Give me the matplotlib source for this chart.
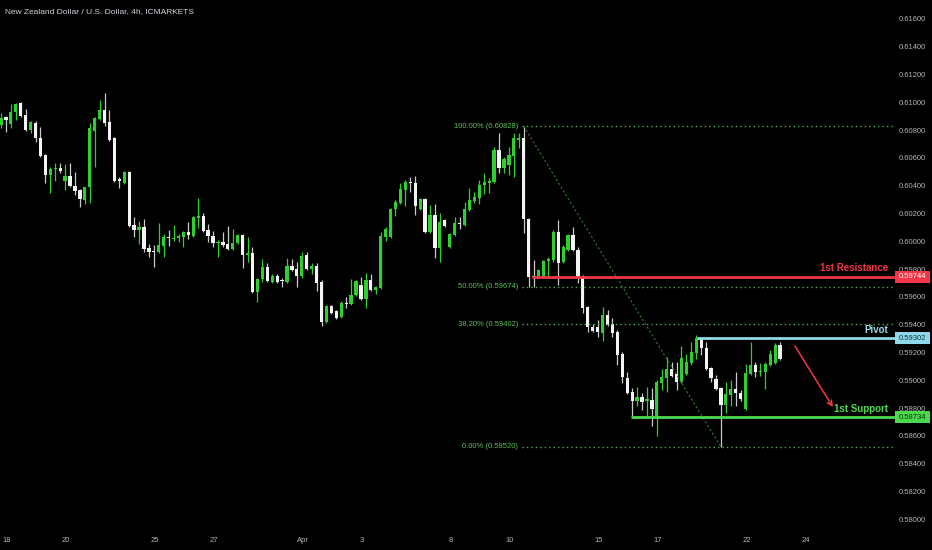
import matplotlib
matplotlib.use('Agg')
import matplotlib.pyplot as plt
from matplotlib.patches import Rectangle
from matplotlib import transforms
from matplotlib import font_manager

# ---------------- data (NZD/USD 4h candles) ----------------
opens = [0.60836, 0.60893, 0.60843, 0.60929, 0.60994, 0.60908, 0.60800, 0.60850, 0.60742, 0.60620,
         0.60476, 0.60519, 0.60526, 0.60433, 0.60469, 0.60397, 0.60368, 0.60296, 0.60390, 0.60793,
         0.60879, 0.60944, 0.60857, 0.60742, 0.60447, 0.60419, 0.60498, 0.60117, 0.60081, 0.60102,
         0.59951, 0.59930, 0.59922, 0.59966, 0.60030, 0.60016, 0.60023, 0.60030, 0.60066, 0.60038,
         0.60167, 0.60181, 0.60081, 0.60038, 0.59987, 0.59994, 0.59980, 0.59944, 0.59987, 0.60045,
         0.59901, 0.59915, 0.59635, 0.59728, 0.59815, 0.59707, 0.59750, 0.59721, 0.59707, 0.59822,
         0.59800, 0.59750, 0.59901, 0.59800, 0.59822, 0.59707, 0.59419, 0.59534, 0.59498, 0.59455,
         0.59555, 0.59548, 0.59613, 0.59685, 0.59584, 0.59721, 0.59649, 0.59664, 0.60030, 0.60030,
         0.60232, 0.60275, 0.60368, 0.60426, 0.60419, 0.60232, 0.60303, 0.60066, 0.60188, 0.59951,
         0.60153, 0.59958, 0.60045, 0.60131, 0.60117, 0.60224, 0.60289, 0.60311, 0.60404, 0.60419,
         0.60426, 0.60656, 0.60526, 0.60548, 0.60613, 0.60728, 0.60742, 0.60160, 0.59750, 0.59743,
         0.59743, 0.59858, 0.59865, 0.60066, 0.59851, 0.59937, 0.60045, 0.59937, 0.59743, 0.59527,
         0.59383, 0.59383, 0.59340, 0.59469, 0.59404, 0.59347, 0.59188, 0.59016, 0.58915, 0.58850,
         0.58879, 0.58850, 0.58858, 0.58735, 0.58980, 0.59016, 0.59081, 0.59045, 0.58987, 0.59045,
         0.59124, 0.59196, 0.59304, 0.59232, 0.59088, 0.59009, 0.58944, 0.58822, 0.58894, 0.58937,
         0.58908, 0.58793, 0.59045, 0.59109, 0.59059, 0.59059, 0.59109, 0.59124, 0.59253]
highs = [0.60922, 0.60900, 0.60987, 0.60994, 0.61001, 0.60951, 0.60864, 0.60864, 0.60821, 0.60627,
         0.60534, 0.60562, 0.60562, 0.60555, 0.60562, 0.60498, 0.60375, 0.60393, 0.60850, 0.60893,
         0.61016, 0.61066, 0.60944, 0.60750, 0.60462, 0.60505, 0.60505, 0.60174, 0.60146, 0.60160,
         0.59980, 0.59973, 0.60131, 0.60052, 0.60081, 0.60117, 0.60052, 0.60073, 0.60138, 0.60181,
         0.60311, 0.60203, 0.60124, 0.60073, 0.60009, 0.60066, 0.60109, 0.60088, 0.60052, 0.60052,
         0.60030, 0.59958, 0.59736, 0.59872, 0.59843, 0.59764, 0.59764, 0.59736, 0.59879, 0.59872,
         0.59851, 0.59922, 0.59922, 0.59843, 0.59843, 0.59721, 0.59541, 0.59541, 0.59505, 0.59570,
         0.59599, 0.59728, 0.59721, 0.59743, 0.59771, 0.59764, 0.59678, 0.60066, 0.60102, 0.60239,
         0.60296, 0.60419, 0.60440, 0.60462, 0.60469, 0.60311, 0.60311, 0.60260, 0.60267, 0.60203,
         0.60160, 0.60059, 0.60174, 0.60174, 0.60282, 0.60383, 0.60354, 0.60440, 0.60490, 0.60455,
         0.60678, 0.60778, 0.60606, 0.60678, 0.60778, 0.60778, 0.60828, 0.60167, 0.59865, 0.59800,
         0.59865, 0.59887, 0.60081, 0.60153, 0.59973, 0.60052, 0.60102, 0.59958, 0.59757, 0.59534,
         0.59404, 0.59433, 0.59527, 0.59505, 0.59447, 0.59361, 0.59203, 0.59059, 0.58944, 0.58951,
         0.58908, 0.58951, 0.58944, 0.59002, 0.59081, 0.59167, 0.59131, 0.59131, 0.59246, 0.59188,
         0.59275, 0.59325, 0.59311, 0.59275, 0.59095, 0.59038, 0.58951, 0.58987, 0.59002, 0.59059,
         0.58930, 0.59117, 0.59275, 0.59131, 0.59124, 0.59131, 0.59217, 0.59268, 0.59275]
lows = [0.60814, 0.60786, 0.60814, 0.60872, 0.60893, 0.60793, 0.60778, 0.60714, 0.60606, 0.60419,
        0.60347, 0.60433, 0.60490, 0.60368, 0.60390, 0.60332, 0.60246, 0.60267, 0.60274, 0.60534,
        0.60872, 0.60829, 0.60721, 0.60426, 0.60383, 0.60412, 0.60102, 0.60030, 0.59980, 0.59922,
        0.59887, 0.59815, 0.59915, 0.59887, 0.59966, 0.60002, 0.59994, 0.59958, 0.60016, 0.60030,
        0.60095, 0.60066, 0.59994, 0.59958, 0.59887, 0.59958, 0.59937, 0.59937, 0.59980, 0.59807,
        0.59851, 0.59628, 0.59563, 0.59707, 0.59707, 0.59700, 0.59700, 0.59671, 0.59700, 0.59786,
        0.59671, 0.59736, 0.59793, 0.59764, 0.59642, 0.59390, 0.59412, 0.59476, 0.59440, 0.59447,
        0.59519, 0.59541, 0.59606, 0.59577, 0.59519, 0.59642, 0.59620, 0.59656, 0.60002, 0.60023,
        0.60181, 0.60267, 0.60253, 0.60354, 0.60188, 0.60224, 0.60059, 0.60059, 0.59879, 0.59851,
        0.60102, 0.59951, 0.60038, 0.60088, 0.60109, 0.60217, 0.60275, 0.60267, 0.60339, 0.60347,
        0.60419, 0.60490, 0.60490, 0.60476, 0.60462, 0.60670, 0.60059, 0.59671, 0.59671, 0.59736,
        0.59736, 0.59743, 0.59851, 0.59685, 0.59843, 0.59930, 0.59930, 0.59699, 0.59483, 0.59347,
        0.59347, 0.59311, 0.59282, 0.59390, 0.59311, 0.59109, 0.58980, 0.58901, 0.58735, 0.58815,
        0.58786, 0.58735, 0.58671, 0.58599, 0.58930, 0.58915, 0.59023, 0.58930, 0.58980, 0.59038,
        0.59109, 0.59152, 0.59181, 0.59074, 0.58987, 0.58930, 0.58520, 0.58764, 0.58815, 0.58815,
        0.58850, 0.58786, 0.59038, 0.59023, 0.59030, 0.58937, 0.59102, 0.59117, 0.59145]
closes = [0.60886, 0.60872, 0.60929, 0.60987, 0.60900, 0.60800, 0.60857, 0.60742, 0.60613, 0.60476,
          0.60519, 0.60526, 0.60505, 0.60469, 0.60397, 0.60361, 0.60303, 0.60390, 0.60814, 0.60886,
          0.60944, 0.60850, 0.60728, 0.60433, 0.60433, 0.60498, 0.60109, 0.60081, 0.60102, 0.59944,
          0.59922, 0.59922, 0.59973, 0.60030, 0.60023, 0.60023, 0.60038, 0.60066, 0.60045, 0.60174,
          0.60181, 0.60073, 0.60038, 0.59987, 0.59994, 0.59973, 0.59944, 0.59987, 0.60045, 0.59901,
          0.59915, 0.59635, 0.59728, 0.59815, 0.59714, 0.59750, 0.59707, 0.59714, 0.59822, 0.59793,
          0.59750, 0.59894, 0.59800, 0.59822, 0.59699, 0.59419, 0.59534, 0.59483, 0.59447, 0.59555,
          0.59548, 0.59613, 0.59714, 0.59584, 0.59721, 0.59649, 0.59671, 0.60038, 0.60088, 0.60232,
          0.60282, 0.60375, 0.60426, 0.60419, 0.60253, 0.60303, 0.60066, 0.60188, 0.59951, 0.60138,
          0.60109, 0.60052, 0.60131, 0.60124, 0.60232, 0.60296, 0.60318, 0.60404, 0.60426, 0.60433,
          0.60656, 0.60526, 0.60591, 0.60620, 0.60742, 0.60742, 0.60160, 0.59743, 0.59743, 0.59793,
          0.59858, 0.59872, 0.60066, 0.59843, 0.59958, 0.60045, 0.59937, 0.59743, 0.59519, 0.59383,
          0.59354, 0.59347, 0.59469, 0.59397, 0.59340, 0.59181, 0.59023, 0.58908, 0.58850, 0.58879,
          0.58843, 0.58865, 0.58793, 0.58987, 0.59023, 0.59081, 0.59030, 0.58987, 0.59160, 0.59131,
          0.59203, 0.59304, 0.59232, 0.59081, 0.59016, 0.58937, 0.58822, 0.58901, 0.58937, 0.58908,
          0.58865, 0.59052, 0.59109, 0.59059, 0.59066, 0.59117, 0.59188, 0.59253, 0.59152]

date_labels = ['18', '20', '25', '27', 'Apr', '3', '8', '10', '15', '17', '22', '24']
trading_day_of_label = [0, 2, 5, 7, 10, 12, 15, 17, 20, 22, 25, 27]
bars_per_day = 6
first_label_bar = 1.2

price_ticks = [0.580, 0.582, 0.584, 0.586, 0.588, 0.590, 0.592, 0.594, 0.596, 0.598,
               0.600, 0.602, 0.604, 0.606, 0.608, 0.610, 0.612, 0.614, 0.616]

fib_high = 0.60828
fib_low = 0.58520
fib_ratios = [1.0, 0.5, 0.382, 0.0]
fib_high_bar = 106
fib_low_bar = 146

resistance = 0.59744
pivot = 0.59302
support = 0.58734
resistance_start = 107.6
pivot_start = 141.2
support_start = 127.8
arrow_from = (161.0, 0.59246)
arrow_to = (168.7, 0.58807)

title = 'New Zealand Dollar / U.S. Dollar, 4h, ICMARKETS'

# ---------------- styling ----------------
avail = {f.name for f in font_manager.fontManager.ttflist}
if 'Liberation Sans Narrow' in avail:
    narrow = ['Liberation Sans Narrow', 'DejaVu Sans']
    k = 1.0
else:
    narrow = ['Liberation Sans', 'DejaVu Sans']
    k = 0.84

UP = '#2fcf2f'
DOWN = '#f4f4f4'
AXIS_TXT = '#b2b5be'
FIB = '#4caf50'
RED = '#f23645'
CYAN = '#8fd8ea'
SUP = '#4cd94c'

W, H = 932, 550
fig = plt.figure(figsize=(W / 100, H / 100), dpi=100, facecolor='black')
ax_left, ax_bottom, ax_w, ax_h = 0, 20, 895, 530
ax = fig.add_axes([ax_left / W, ax_bottom / H, ax_w / W, ax_h / H])
ax.set_facecolor('black')
for s in ax.spines.values():
    s.set_visible(False)

n = len(opens)
xs = list(range(n))
for i in xs:
    o, h, l, c = opens[i], highs[i], lows[i], closes[i]
    col = UP if c >= o else DOWN
    wick = UP if c >= o else '#c8c8c8'
    ax.vlines(i, l, h, color=wick, linewidth=0.9, zorder=2)
    body = max(abs(c - o), 0.00002)
    ax.bar(i, body, bottom=min(o, c), width=0.66, color=col, linewidth=0, zorder=3)

xmin, xmax = -0.2, 181.3
ax.set_xlim(xmin, xmax)
ax.set_ylim(0.579223, 0.617353)

# fib levels
fib_line_start = 105.7
for r in fib_ratios:
    lvl = fib_low + r * (fib_high - fib_low)
    ax.plot([fib_line_start, 180.9], [lvl, lvl], color=FIB, linewidth=1.0,
            linestyle=(0, (1, 2.2)), zorder=4)
    ax.text(104.85, lvl, f'{r * 100:.2f}% ({lvl:.5f})', color='#5cbf5c', fontsize=6.5 * k,
            family=narrow, ha='right', va='center', zorder=5)
ax.plot([fib_high_bar, fib_low_bar], [fib_high, fib_low], color='#2e7d32', linewidth=0.8,
        linestyle=(0, (2, 2)), zorder=4)

# resistance / pivot / support
ax.plot([resistance_start, xmax], [resistance, resistance], color=RED, linewidth=2, zorder=5,
        solid_capstyle='butt')
ax.plot([pivot_start, xmax], [pivot, pivot], color=CYAN, linewidth=2, zorder=5, solid_capstyle='butt')
ax.plot([support_start, xmax], [support, support], color=SUP, linewidth=2, zorder=5, solid_capstyle='butt')

lab_x = 179.9
for txt, lvl, col in [('1st Resistance', resistance, RED), ('Pivot', pivot, CYAN),
                      ('1st Support', support, SUP)]:
    ax.annotate(txt, xy=(lab_x, lvl), xytext=(0, 2.5), textcoords='offset points',
                ha='right', va='bottom', color=col, fontsize=7.0, fontweight='bold',
                family=['Liberation Sans', 'DejaVu Sans'], zorder=6)

ax.annotate('', xy=arrow_to, xytext=arrow_from,
            arrowprops=dict(arrowstyle='->', color=RED, linewidth=1.1,
                            mutation_scale=9, shrinkA=0, shrinkB=0), zorder=6)

# right price axis
ax.yaxis.tick_right()
ax.set_yticks(price_ticks)
ax.set_yticklabels([f'{p:.5f}' for p in price_ticks])
ax.tick_params(axis='y', length=0, pad=2.5, labelsize=6.6 * k, labelcolor=AXIS_TXT)
for t in ax.get_yticklabels():
    t.set_family(narrow)

# bottom date axis
tick_pos = [first_label_bar + d * bars_per_day for d in trading_day_of_label]
ax.set_xticks(tick_pos)
ax.set_xticklabels(date_labels)
ax.tick_params(axis='x', length=0, pad=5, labelsize=6.6 * k, labelcolor=AXIS_TXT)
for t in ax.get_xticklabels():
    t.set_family(narrow)

# price boxes at right
tr = transforms.blended_transform_factory(fig.transFigure, ax.transData)
box_h = 12 / 13900
for lvl, face, tcol in [(resistance, RED, 'white'), (pivot, CYAN, '#10303a'), (support, SUP, '#0a2a0a')]:
    rect = Rectangle((895 / W, lvl - box_h / 2), 35 / W, box_h, transform=tr,
                     facecolor=face, edgecolor='none', zorder=10, clip_on=False)
    fig.add_artist(rect)
    fig.text(912.5 / W, lvl, f'{lvl:.5f}', transform=tr, ha='center', va='center',
             color=tcol, fontsize=6.6 * k, family=narrow, zorder=11)

fig.text(5 / W, 1 - 12 / H, title, color='#d1d4dc', fontsize=7.2 * k, family=narrow,
         ha='left', va='center')

fig.savefig('out.png', dpi=100, facecolor='black')
